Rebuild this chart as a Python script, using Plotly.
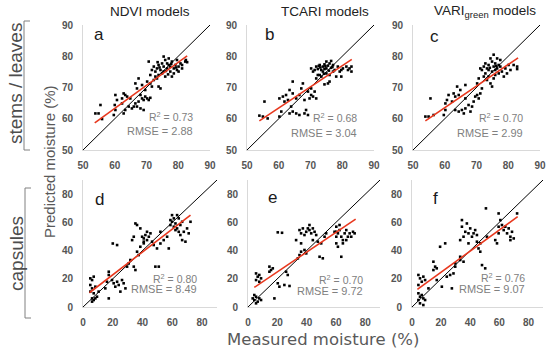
import plotly.graph_objects as go

# ---------------- data ----------------
panel_letters = ["a", "b", "c", "d", "e", "f"]
column_titles = ["NDVI models", "TCARI models", "VARI<sub>green</sub> models"]
r2_labels = ["R<sup>2</sup> = 0.73", "R<sup>2</sup> = 0.68", "R<sup>2</sup> = 0.70",
             "R<sup>2</sup> = 0.80", "R<sup>2</sup> = 0.70", "R<sup>2</sup> = 0.76"]
rmse_labels = ["RMSE = 2.88", "RMSE = 3.04", "RMSE = 2.99",
               "RMSE = 8.49", "RMSE = 9.72", "RMSE = 9.07"]

top_ticks = [50, 60, 70, 80, 90]
bottom_ticks = [0, 20, 40, 60, 80]
top_range = [50, 90]
bottom_range = [0, 90]

a_pts = [(53.9,61.7),(54.9,61.7),(55.5,64.4),(56,59.9),(59.7,61.2),(60.2,62.8),(60,64.4),(60.7,66),
         (60.2,67.6),(62.3,66.5),(62.8,68.1),(63.3,67.6),(63.9,67.1),(64.4,63.9),(63.3,62.8),(62.8,61.7),
         (65.4,63.3),(66,63.9),(67,63.9),(66.5,64.9),(67.5,65.5),(67,69.7),(66.5,71.3),(68.1,67.6),
         (68.6,66.5),(69.1,66),(69.6,67.1),(70.2,66.5),(70.7,66),(71.2,66.7),(69.6,69.2),(68.6,70.8),
         (67.5,72.9),(68.1,63.3),(69.1,62.8),(62.3,64.9),(64.9,66.5),(70.2,71.9),(71.2,71.3),(71.7,70.3),
         (70.7,78.3),(71.7,75.6),(72.3,76.7),(72.8,75.1),(73.3,76.1),(73.8,77.2),(74.4,75.6),(74.9,77.7),
         (75.4,76.7),(75.9,78.8),(76.5,76.1),(77,77.2),(77.5,75.1),(78,78.3),(78.6,76.1),(79.1,77.2),
         (79.6,75.6),(80.1,76.7),(80.7,77.7),(81.2,76.1),(82.2,78.3),(82.8,78.1),(82.4,78.8),(74.9,74.5),
         (75.9,73.5),(73.8,74),(74.4,69.7),(73.8,70.3),(75.4,79.9),(73.3,72.9),(77,79.3),(78.6,74.5),
         (80.1,75.1),(78,73.5),(76.5,77.7),(75.4,75.1),(72.8,73.5),(79.6,78.8),(77.5,76.7),(81.2,77.2),
         (72.3,72.4),(71.2,74),(74.1,76.4),(76.1,75.3),(77.8,77.6),(73.5,78.1),(76.8,74.2),(79.3,76.4)]
b_pts = [(53.9,61),(55,60.7),(55.5,65.5),(56.5,60.1),(60.2,60.7),(60.8,62.3),(60.2,66.5),(61.3,67.1),
         (62.3,67.6),(61.8,65.5),(62.9,66),(63.4,69.2),(64.4,71.9),(63.9,63.9),(64.4,68.1),(65.5,66.5),
         (66.5,67.6),(67.1,69.7),(67.6,71.3),(63.4,61.7),(64.4,62.3),(65.5,61.7),(66.5,61.2),(68.1,61.7),
         (69.2,61.2),(68.6,62.8),(70.2,67.6),(70.8,67.1),(71.3,68.7),(69.7,66.5),(68.1,66),(70.2,76.1),
         (70.8,75.1),(71.3,75.6),(71.8,76.7),(72.3,75.9),(72.9,77.2),(73.4,75.6),(73.9,76.7),(74.4,77.4),
         (75,76.1),(75.5,77),(76,77.7),(76.5,76.3),(77.1,77.2),(77.6,75.6),(73.9,75.1),(75,74.5),
         (76,74),(73.4,73.5),(72.9,74),(74.4,71),(75.5,71.3),(76,71.9),(78.1,73.5),(79.2,75.1),
         (79.7,73.5),(80.2,76.1),(81.3,76.7),(81.8,75.6),(82.3,76.1),(82.9,76.7),(82.9,75.1),(72.3,74),
         (71.8,72.9),(75,78.3),(76.5,78.5),(74.4,75.9),(77.1,75.1),(78.6,76.7),(79.7,75.6),(70.2,69.7),
         (69.2,68.7),(71.8,66.5),(73.1,76.4),(74.7,76.8),(75.8,75.4),(76.9,76.6),(72.6,76.9),(74.2,74.4)]
c_pts = [(53.9,60.7),(54.9,60.7),(55.5,66.5),(56.5,61.2),(59.7,61.2),(60.2,62.8),(60.2,64.9),(60.7,66),
         (61.2,67.6),(62.3,65.5),(62.8,68.1),(63.3,67.1),(63.9,70.3),(64.4,67.6),(64.9,69.2),(66.5,70.8),
         (66.5,66.5),(63.3,62.8),(64.4,62.3),(65.4,62.8),(66,61.7),(66.5,63.3),(67.5,64.4),(68.1,62.3),
         (68.6,63.9),(69.1,65.5),(69.6,67.1),(70.2,67.6),(70.7,66.5),(71.2,68.1),(71.7,69.7),(70.2,71.3),
         (70.7,72.9),(71.2,76.1),(71.7,75.6),(72.3,76.7),(72.8,77.7),(73.3,76.1),(73.8,77.2),(74.4,79.3),
         (74.9,78.3),(75.4,76.7),(75.9,77.7),(76.5,76.1),(77,77.2),(77.5,78.8),(74.9,75.1),(75.9,74),
         (73.8,73.5),(73.3,72.4),(72.8,74.5),(74.4,71.3),(74.9,70.3),(75.4,72.9),(78,75.1),(79.1,76.1),
         (79.6,74.5),(80.1,77.2),(80.7,75.6),(81.7,77.2),(82.8,76.7),(82.8,75.9),(78.6,73.5),(77,74.5),
         (76.5,79.3),(73.8,75.6),(77.5,76.7),(75.4,80.5),(72.3,73.5),(75.9,75.6),(74.2,76.3),(76.2,76.9)]
d_pts = [(4.9,20.3),(6.1,19.1),(7.2,21.5),(4.9,15.6),(6.1,13.2),(8.3,14.4),(4.9,10.9),(7.2,9.7),
         (6.1,6.1),(7.2,4.95),(8.3,6.1),(6.1,3.8),(9.4,7.3),(10.5,10.9),(16.1,17.9),(17.3,25),
         (17.3,22.7),(15,13.2),(17.3,6.1),(19.5,19.1),(20.6,16.8),(21.7,14.4),(22.9,17.9),(24,15.6),
         (26.2,19.1),(27.3,16.8),(28.5,13.2),(25.1,10.9),(20,45),(22.9,43.9),(29.6,28.6),(30.7,30.9),
         (31.8,33.3),(34.1,28.6),(35.2,26.2),(33,47.4),(34.1,49.8),(35.2,59.2),(36.3,58.1),(36.3,39.2),
         (37.4,36.8),(38.5,42.7),(39.7,49.8),(40.8,48.6),(41.9,51),(43,47.4),(44.2,49.8),(40.8,46.3),
         (45.3,52.2),(46.4,46.3),(47.5,43.9),(48.6,28.6),(50.9,28.6),(49.7,41.5),(52,45),(54.2,47.4),
         (52,53.3),(56.5,49.8),(57.6,41.5),(58.7,61.6),(59.8,60.4),(61,62.8),(62.1,59.2),(63.2,65.1),
         (61,56.9),(63.2,55.7),(64.3,53.3),(65.4,58.1),(66.6,60.4),(67.7,53.3),(68.8,46.3),(69.9,55.7),
         (71,52.2),(72.2,60.4),(59.8,65.1),(58.7,58.1),(64.3,62.8),(62.1,54.5),(65.4,51),(66.6,47.4),
         (38.5,55.7),(43,53.3),(40.8,45.1)]
e_pts = [(3.2,6.1),(4.3,4.95),(5.5,7.3),(6.6,3.8),(7.7,6.1),(5.5,2.6),(8.9,4.95),(4.3,8.5),
         (18,6.1),(5.5,23.8),(6.6,21.5),(7.7,22.7),(5.5,19.1),(7.7,17.9),(8.9,20.3),(14.6,28.6),
         (15.7,26.2),(16.9,27.4),(14.6,25),(20.3,16.8),(21.4,14.4),(24.8,15.6),(28.3,14.9),(26,25),
         (27.1,22.7),(20.3,52.9),(23.2,52.6),(32.8,47.4),(35.1,54.5),(36.2,52.2),(37.4,55.7),(38.5,51),
         (39.7,53.3),(40.8,55.7),(41.9,54.5),(43.1,52.2),(44.2,55.7),(45.4,53.3),(46.5,51),(36.2,45.1),
         (38.5,40.4),(39.7,38),(35.1,36.8),(34,34.5),(36.2,39.2),(48.8,35.6),(51,34.5),(47.6,46.3),
         (49.9,45.1),(52.2,49.8),(53.3,52.2),(60.2,56.9),(60.2,53.3),(60.2,49.8),(60.2,45.1),(61.3,52.2),
         (62.4,54.5),(63.6,49.8),(64.7,45.1),(65.9,52.2),(67,54.5),(68.1,49.8),(69.3,52.2),(71.6,53.3),
         (72.7,52.2),(63.6,35.6),(61.3,42.7),(64.7,47.4),(59,53.3),(62.4,58.1),(67,47.4),(70.4,49.8),
         (44.2,47.4),(41.9,58.1)]
f_pts = [(4.4,22.7),(5.5,20.3),(7.8,21.5),(6.7,17.9),(4.4,15.6),(9,19.1),(4.4,9.7),(5.5,7.3),
         (6.7,8.5),(7.8,6.1),(5.5,2.6),(7.8,1.4),(9,4.95),(4.4,4.95),(11.3,13.2),(14.7,32.1),
         (15.9,28.6),(14.7,26.2),(17,27.4),(17,19.1),(19.3,42.7),(22.8,45.1),(20.5,14.4),(23.9,21.5),
         (27.4,13.2),(26.2,22.7),(28.5,23.8),(29.7,30.9),(29.7,28.6),(33.1,35.6),(33.1,33.3),(35.4,32.1),
         (34.3,61.6),(34.3,56.9),(35.4,49.8),(33.1,47.4),(36.6,53.3),(38.8,52.2),(40,55.7),(41.2,49.8),
         (42.3,52.2),(43.4,54.5),(44.6,51),(37.7,59.2),(38.8,45.1),(45.7,41.5),(46.9,39.2),(48.1,29.7),
         (50.3,27.4),(59.5,66.3),(60.7,61.6),(59.5,56.9),(59.5,52.2),(61.8,58.1),(63,54.5),(64.1,56.9),
         (65.3,52.2),(66.4,55.7),(67.6,49.8),(68.7,53.3),(69.9,48.6),(58.4,45.1),(57.2,47.4),(67.6,47.4),
         (72.2,66.3),(46.9,45.1),(51.5,49.8),(44.6,46.3),(50.8,69.9)]
panel_points = [a_pts, b_pts, c_pts, d_pts, e_pts, f_pts]

# regression line endpoints (measured, predicted)
fit_x = [[53.7, 82.8], [53.9, 83.0], [53.9, 83.1], [4.3, 72.2], [4.3, 73.4], [3.7, 72.6]]
fit_y = [[58.7, 80.1], [59.3, 79.0], [59.3, 79.5], [10.1, 65.1], [13.9, 62.3], [12.5, 64.0]]

# annotation anchor positions in data units
letter_pos = [(55.0, 87.0), (57.0, 87.0), (56.9, 86.3), (11.4, 76.0), (16.4, 77.5), (15.9, 77.0)]
stat_pos = [(85.3, 60.6, 56.1), (85.4, 60.3, 55.6), (85.4, 60.3, 55.6),
            (78.2, 20.3, 12.5), (79.5, 19.3, 11.0), (79.1, 21.0, 12.5)]

# ---------------- layout geometry (pixels) ----------------
W, H = 550, 351
x_px = [(83, 210), (247, 374), (413, 540), (83, 217), (248, 380), (412, 543)]
y_px = [(25, 150), (25, 150), (25, 150), (180, 307), (180, 307), (180, 307)]

fig = go.Figure()
tickfont = dict(family="Liberation Sans, Arial", size=10, color="#555555", weight="bold")
layout = {}
annotations = []
shapes = []

for i in range(6):
    n = "" if i == 0 else str(i + 1)
    xa, ya = "x" + n, "y" + n
    top = i < 3
    rng = top_range if top else bottom_range
    ticks = top_ticks if top else bottom_ticks
    pts = panel_points[i]
    fig.add_trace(go.Scatter(x=[p[0] for p in pts], y=[p[1] for p in pts], mode="markers",
                             marker=dict(symbol="square", size=2.6, color="black", line=dict(width=0)),
                             xaxis=xa, yaxis=ya, showlegend=False, hoverinfo="skip"))
    fig.add_trace(go.Scatter(x=rng, y=rng, mode="lines", line=dict(color="black", width=1),
                             xaxis=xa, yaxis=ya, showlegend=False, hoverinfo="skip"))
    fig.add_trace(go.Scatter(x=fit_x[i], y=fit_y[i], mode="lines", line=dict(color="#e8381e", width=1.6),
                             xaxis=xa, yaxis=ya, showlegend=False, hoverinfo="skip"))
    x0, x1 = x_px[i]
    y0, y1 = y_px[i]
    layout["xaxis" + n] = dict(domain=[x0 / W, x1 / W], range=rng, anchor=ya, tickvals=ticks,
                               showgrid=False, zeroline=False, showline=True, linecolor="#d9d9d9",
                               linewidth=1, ticks="", tickfont=tickfont, automargin=False,
                               ticklabelstandoff=6 if top else 6, fixedrange=True)
    layout["yaxis" + n] = dict(domain=[1 - y1 / H, 1 - y0 / H], range=rng, anchor=xa, tickvals=ticks,
                               showgrid=False, zeroline=False, showline=True, linecolor="#d9d9d9",
                               linewidth=1, ticks="", tickfont=tickfont, ticklabelstandoff=7,
                               automargin=False, fixedrange=True)
    lx, ly = letter_pos[i]
    annotations.append(dict(x=lx, y=ly, xref=xa, yref=ya, text=panel_letters[i], showarrow=False,
                            xanchor="center", yanchor="middle",
                            font=dict(family="Liberation Sans, Arial", size=17, color="#1a1a1a")))
    sx, sy1, sy2 = stat_pos[i]
    annotations.append(dict(x=sx, y=sy1, xref=xa, yref=ya, text=r2_labels[i], showarrow=False,
                            xanchor="right", yanchor="middle",
                            font=dict(family="Liberation Sans, Arial", size=10.5, color="#808080")))
    annotations.append(dict(x=sx, y=sy2, xref=xa, yref=ya, text=rmse_labels[i], showarrow=False,
                            xanchor="right", yanchor="middle",
                            font=dict(family="Liberation Sans, Arial", size=11, color="#808080")))

def paper_text(text, cx, cy, size, color, family="Liberation Sans, Arial", angle=0):
    return dict(x=cx / W, y=1 - cy / H, xref="paper", yref="paper", text=text, showarrow=False,
                xanchor="center", yanchor="middle", textangle=angle,
                font=dict(family=family, size=size, color=color))

# column titles
title_cx = [150, 325, 485]
for t, cx in zip(column_titles, title_cx):
    annotations.append(paper_text(t, cx, 12, 13.5, "#222222"))

# row / axis labels
annotations.append(paper_text("stems / leaves", 15, 84, 19, "#4d4d4d", angle=-90))
annotations.append(paper_text("capsules", 16, 254, 19, "#4d4d4d", angle=-90))
annotations.append(paper_text("Predicted moisture (%)", 49, 162, 15, "#595959", angle=-90))
annotations.append(paper_text("Measured moisture (%)", 323, 339, 16.5, "#595959", family="DejaVu Sans"))

# brackets
def bracket(xv, ytop, ybot, tick):
    col = "#808080"
    return [
        dict(type="line", xref="paper", yref="paper", x0=xv / W, x1=xv / W, y0=1 - ytop / H, y1=1 - ybot / H,
             line=dict(color=col, width=1)),
        dict(type="line", xref="paper", yref="paper", x0=xv / W, x1=(xv + tick) / W, y0=1 - ytop / H, y1=1 - ytop / H,
             line=dict(color=col, width=1)),
        dict(type="line", xref="paper", yref="paper", x0=xv / W, x1=(xv + tick) / W, y0=1 - ybot / H, y1=1 - ybot / H,
             line=dict(color=col, width=1)),
    ]

shapes += bracket(24, 21, 150, 6)
shapes += bracket(25, 188, 318, 6)

fig.update_layout(width=W, height=H, margin=dict(l=0, r=0, t=0, b=0, autoexpand=False),
                  paper_bgcolor="white", plot_bgcolor="white",
                  annotations=annotations, shapes=shapes, **layout)
fig.write_html("out.html", config={"displayModeBar": False},
               post_script="document.body.style.margin='0';document.body.style.padding='0';")
